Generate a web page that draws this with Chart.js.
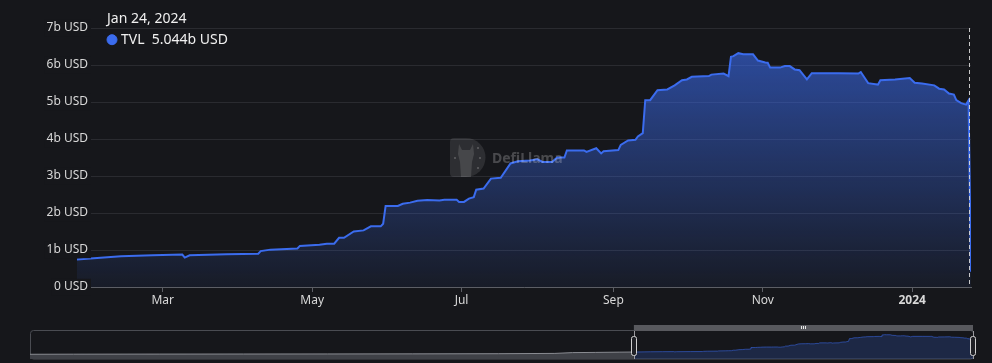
<!DOCTYPE html>
<html>
<head>
<meta charset="utf-8">
<script src="https://cdn.jsdelivr.net/npm/chart.js@4.4.1/dist/chart.umd.min.js"></script>
<style>
  html, body { margin: 0; padding: 0; background: #16171b; }
  #wrap { position: relative; width: 992px; height: 363px; overflow: hidden; }
  #main-box { position: absolute; left: 0; top: 0; width: 992px; height: 318px; }
  #slider-box { position: absolute; left: 0; top: 318px; width: 992px; height: 45px; }
</style>
</head>
<body>
<div id="wrap">
  <div id="main-box"><canvas id="tvlChart"></canvas></div>
  <div id="slider-box"><canvas id="sliderChart"></canvas></div>
</div>
<script>
// TVL in billions of USD
const tvlDates = [
  '2023-01-25', '2023-02-05', '2023-02-12', '2023-02-25', '2023-03-09', '2023-03-10', '2023-03-12', '2023-03-27',
  '2023-04-09', '2023-04-10', '2023-04-14', '2023-04-25', '2023-04-26', '2023-05-04', '2023-05-07', '2023-05-10',
  '2023-05-12', '2023-05-14', '2023-05-18', '2023-05-22', '2023-05-25', '2023-05-29', '2023-05-30', '2023-05-31',
  '2023-06-05', '2023-06-07', '2023-06-10', '2023-06-13', '2023-06-17', '2023-06-22', '2023-06-24', '2023-06-29',
  '2023-06-30', '2023-07-02', '2023-07-04', '2023-07-06', '2023-07-07', '2023-07-10', '2023-07-13', '2023-07-17',
  '2023-07-21', '2023-07-24', '2023-07-29', '2023-08-01', '2023-08-03', '2023-08-07', '2023-08-09', '2023-08-12',
  '2023-08-13', '2023-08-20', '2023-08-21', '2023-08-25', '2023-08-27', '2023-08-28', '2023-09-03', '2023-09-04',
  '2023-09-07', '2023-09-10', '2023-09-11', '2023-09-13', '2023-09-14', '2023-09-16', '2023-09-19', '2023-09-23',
  '2023-09-26', '2023-09-29', '2023-10-01', '2023-10-03', '2023-10-10', '2023-10-11', '2023-10-16', '2023-10-18',
  '2023-10-19', '2023-10-20', '2023-10-22', '2023-10-24', '2023-10-28', '2023-10-30', '2023-11-02', '2023-11-03',
  '2023-11-04', '2023-11-08', '2023-11-10', '2023-11-12', '2023-11-14', '2023-11-16', '2023-11-19', '2023-11-21',
  '2023-12-02', '2023-12-10', '2023-12-11', '2023-12-14', '2023-12-17', '2023-12-18', '2023-12-19', '2023-12-25',
  '2023-12-31', '2024-01-02', '2024-01-05', '2024-01-10', '2024-01-12', '2024-01-14', '2024-01-16', '2024-01-18',
  '2024-01-19', '2024-01-21', '2024-01-23', '2024-01-24', '2024-01-25'
];
const tvlValues = [
  0.74, 0.795, 0.83, 0.857, 0.875, 0.795, 0.857, 0.884,
  0.90, 0.97, 1.01, 1.04, 1.11, 1.14, 1.17, 1.17,
  1.33, 1.33, 1.50, 1.53, 1.64, 1.64, 1.71, 2.19,
  2.19, 2.25, 2.28, 2.33, 2.35, 2.34, 2.36, 2.36,
  2.30, 2.30, 2.39, 2.43, 2.63, 2.66, 2.93, 2.95,
  3.34, 3.40, 3.42, 3.45, 3.38, 3.38, 3.50, 3.50,
  3.69, 3.69, 3.65, 3.75, 3.61, 3.67, 3.70, 3.84,
  3.96, 3.98, 4.07, 4.16, 5.05, 5.05, 5.32, 5.34,
  5.45, 5.59, 5.61, 5.68, 5.70, 5.74, 5.77, 5.70,
  6.22, 6.24, 6.32, 6.29, 6.29, 6.12, 6.07, 6.06,
  5.93, 5.93, 5.97, 5.97, 5.88, 5.86, 5.61, 5.78,
  5.78, 5.77, 5.81, 5.51, 5.48, 5.47, 5.59, 5.61,
  5.65, 5.52, 5.50, 5.45, 5.36, 5.34, 5.23, 5.20,
  5.05, 4.97, 4.93, 5.044, 0.41
];

// older history shown only in the zoom slider
const overviewDates = ['2021-04-15', '2021-06-01', '2021-09-01', '2021-12-01', '2022-03-01', '2022-06-01',
  '2022-09-01', '2022-11-01', '2022-11-20', '2022-12-15', '2023-01-10', '2023-01-25'];
const overviewValues = [0.02, 0.05, 0.08, 0.10, 0.12, 0.15, 0.20, 0.30, 0.55, 0.62, 0.70, 0.74];

const xTickDates = ['2023-03-01', '2023-05-01', '2023-07-01', '2023-09-01', '2023-11-01', '2024-01-01'];
const xTickLabels = ['Mar', 'May', 'Jul', 'Sep', 'Nov', '2024'];
const yTickLabels = ['0 USD', '1b USD', '2b USD', '3b USD', '4b USD', '5b USD', '6b USD', '7b USD'];

const hoverDate = '2024-01-24';
const seriesName = 'TVL';
const lineColor = 'rgb(59, 108, 238)';
const bgColor = '#16171b';
const monthNames = ['Jan', 'Feb', 'Mar', 'Apr', 'May', 'Jun', 'Jul', 'Aug', 'Sep', 'Oct', 'Nov', 'Dec'];

function dayNum(iso) {
  const [y, m, d] = iso.split('-').map(Number);
  return Date.UTC(y, m - 1, d) / 86400000;
}
function formatDate(iso) {
  const [y, m, d] = iso.split('-').map(Number);
  return `${monthNames[m - 1]} ${d}, ${y}`;
}

const tvlPoints = tvlDates.map((d, i) => ({ x: dayNum(d), y: tvlValues[i] }));
const overviewPoints = overviewDates.map((d, i) => ({ x: dayNum(d), y: overviewValues[i] }));
const hoverIndex = tvlDates.indexOf(hoverDate);

Chart.defaults.font.family = "'Noto Sans', sans-serif";
Chart.defaults.font.size = 12;
Chart.defaults.color = '#d8d8d8';

// tooltip parked in the top-left corner like the original
Chart.Tooltip.positioners.topCorner = function () {
  return { x: 107, y: 10.5 };
};

// y labels sit a bit over the plot area (they hide the start of the grid lines)
const labelOverlap = {
  id: 'labelOverlap',
  afterLayout(chart) {
    chart.scales.y.right = chart.chartArea.left + 14;
  }
};

// dashed crosshair at the hovered day
const crosshair = {
  id: 'crosshair',
  afterDatasetsDraw(chart) {
    const { ctx, chartArea, scales } = chart;
    const x = Math.round(scales.x.getPixelForValue(dayNum(hoverDate))) + 0.5;
    ctx.save();
    ctx.strokeStyle = 'rgba(220, 220, 220, 0.9)';
    ctx.lineWidth = 1;
    ctx.setLineDash([4, 3]);
    ctx.beginPath();
    ctx.moveTo(x, chartArea.top);
    ctx.lineTo(x, chartArea.bottom);
    ctx.stroke();
    ctx.restore();
  }
};

// DefiLlama watermark
const watermark = {
  id: 'watermark',
  afterDatasetsDraw(chart) {
    const { ctx } = chart;
    const lx = 450, ly = 138, h = 39, r = h / 2;
    ctx.save();
    ctx.fillStyle = 'rgba(255, 255, 255, 0.1)';
    ctx.beginPath();
    ctx.moveTo(lx + 4, ly);
    ctx.lineTo(lx + 16, ly);
    ctx.arc(lx + 16, ly + r, r, -Math.PI / 2, Math.PI / 2);
    ctx.lineTo(lx + 4, ly + h);
    ctx.quadraticCurveTo(lx, ly + h, lx, ly + h - 4);
    ctx.lineTo(lx, ly + 4);
    ctx.quadraticCurveTo(lx, ly, lx + 4, ly);
    ctx.fill();
    // llama head
    ctx.fillStyle = 'rgba(255, 255, 255, 0.12)';
    ctx.beginPath();
    ctx.moveTo(lx + 9, ly + 6);
    ctx.lineTo(lx + 12, ly + 12);
    ctx.lineTo(lx + 20, ly + 12);
    ctx.lineTo(lx + 23, ly + 6);
    ctx.lineTo(lx + 24, ly + 16);
    ctx.lineTo(lx + 22, ly + 24);
    ctx.lineTo(lx + 21, ly + h);
    ctx.lineTo(lx + 11, ly + h);
    ctx.lineTo(lx + 10, ly + 24);
    ctx.lineTo(lx + 8, ly + 16);
    ctx.closePath();
    ctx.fill();
    ctx.fillStyle = 'rgba(255, 255, 255, 0.18)';
    [[lx + 4, ly + 19], [lx + 29, ly + 19], [lx + 27, ly + 9], [lx + 27, ly + 29]].forEach(([px, py]) => {
      ctx.fillRect(px, py, 2, 2);
    });
    ctx.font = "bold 14px 'Noto Sans', sans-serif";
    ctx.fillStyle = 'rgba(255, 255, 255, 0.22)';
    ctx.textBaseline = 'middle';
    ctx.fillText('DefiLlama', 492, 159);
    ctx.restore();
  }
};

const tvlChart = new Chart(document.getElementById('tvlChart'), {
  type: 'line',
  data: {
    datasets: [{
      label: seriesName,
      data: tvlPoints,
      borderColor: lineColor,
      borderWidth: 2,
      pointRadius: 0,
      pointHoverRadius: 0,
      tension: 0,
      fill: 'origin',
      backgroundColor: (context) => {
        const { chart } = context;
        const { chartArea, scales } = chart;
        if (!chartArea) return 'rgba(59, 108, 238, 0.3)';
        const top = scales.y.getPixelForValue(Math.max(...tvlValues));
        const grad = chart.ctx.createLinearGradient(0, top, 0, chartArea.bottom);
        grad.addColorStop(0, 'rgba(59, 108, 238, 0.6)');
        grad.addColorStop(1, 'rgba(59, 108, 238, 0.06)');
        return grad;
      }
    }]
  },
  options: {
    responsive: true,
    maintainAspectRatio: false,
    animation: false,
    events: [],
    layout: { padding: { top: 28, right: 21, left: 0, bottom: 0 } },
    scales: {
      x: {
        type: 'linear',
        min: dayNum(tvlDates[0]),
        max: dayNum(tvlDates[tvlDates.length - 1]),
        afterBuildTicks: (scale) => {
          scale.ticks = xTickDates.map(d => ({ value: dayNum(d) }));
        },
        afterFit: (scale) => { scale.height = 31; },
        grid: { drawOnChartArea: false, drawTicks: true, tickLength: 5, color: '#5c5e65' },
        border: { color: '#5c5e65' },
        ticks: {
          autoSkip: false,
          maxRotation: 0,
          padding: 1,
          color: '#d8d8d8',
          font: (ctx) => ({
            size: 12,
            weight: ctx.tick && ctx.tick.label === '2024' ? 'bold' : 'normal'
          }),
          callback: (value, index) => xTickLabels[index]
        }
      },
      y: {
        min: 0,
        max: 7,
        afterFit: (scale) => { scale.width = 77; },
        grid: { color: '#2a2b30', drawTicks: false },
        border: { display: false },
        ticks: {
          stepSize: 1,
          padding: 3,
          z: 1,
          color: '#d8d8d8',
          showLabelBackdrop: true,
          backdropColor: bgColor,
          backdropPadding: { left: 2, right: 3, top: 1, bottom: 1 },
          callback: (value) => yTickLabels[value]
        }
      }
    },
    plugins: {
      legend: { display: false },
      tooltip: {
        enabled: true,
        position: 'topCorner',
        xAlign: 'left',
        yAlign: 'top',
        backgroundColor: 'rgba(0, 0, 0, 0)',
        borderWidth: 0,
        caretSize: 0,
        caretPadding: 0,
        cornerRadius: 0,
        padding: 0,
        titleColor: '#f0f0f0',
        bodyColor: '#f0f0f0',
        titleFont: { size: 14, weight: 'normal' },
        bodyFont: { size: 14 },
        titleMarginBottom: 4,
        displayColors: true,
        usePointStyle: true,
        boxWidth: 10,
        boxHeight: 10,
        boxPadding: 2,
        multiKeyBackground: 'rgba(0, 0, 0, 0)',
        callbacks: {
          title: (items) => formatDate(tvlDates[items[0].dataIndex]),
          label: (item) => `${item.dataset.label}  ${item.parsed.y.toFixed(3)}b USD`,
          labelColor: () => ({ borderColor: lineColor, backgroundColor: lineColor }),
          labelPointStyle: () => ({ pointStyle: 'circle', rotation: 0 })
        }
      }
    }
  },
  plugins: [labelOverlap, crosshair, watermark]
});

tvlChart.tooltip.setActiveElements([{ datasetIndex: 0, index: hoverIndex }], { x: 0, y: 0 });
tvlChart.update();

// zoom slider frame, handles and move bar
const sliderFrame = {
  id: 'sliderFrame',
  beforeDatasetsDraw(chart) {
    const { ctx, chartArea } = chart;
    ctx.save();
    ctx.strokeStyle = '#4a4c52';
    ctx.lineWidth = 1;
    ctx.beginPath();
    ctx.roundRect(chartArea.left + 0.5, chartArea.top - 0.5, chartArea.right - chartArea.left, chartArea.bottom - chartArea.top + 0.5, 3);
    ctx.stroke();
    ctx.restore();
  },
  afterDatasetsDraw(chart) {
    const { ctx, chartArea, scales } = chart;
    const x0 = scales.x.getPixelForValue(dayNum(tvlDates[0]));
    const x1 = scales.x.getPixelForValue(dayNum(tvlDates[tvlDates.length - 1]));
    ctx.save();
    ctx.fillStyle = '#58595e';
    ctx.fillRect(x0, chartArea.top - 6, x1 - x0, 6);
    ctx.fillStyle = '#e8e8e8';
    const mid = Math.round((x0 + x1) / 2);
    [-2, 0, 2].forEach(dx => ctx.fillRect(mid + dx, chartArea.top - 5, 1, 3));
    ctx.strokeStyle = '#9a9a9e';
    ctx.beginPath();
    [x0, x1].forEach(x => {
      ctx.moveTo(Math.round(x) + 0.5, chartArea.top);
      ctx.lineTo(Math.round(x) + 0.5, chartArea.bottom);
    });
    ctx.stroke();
    [x0, x1].forEach(x => {
      ctx.fillStyle = '#1f2025';
      ctx.strokeStyle = '#d0d0d0';
      ctx.beginPath();
      ctx.roundRect(Math.round(x) - 2.5, chartArea.top + 5.5, 5, 19, 2);
      ctx.fill();
      ctx.stroke();
    });
    ctx.restore();
  }
};

new Chart(document.getElementById('sliderChart'), {
  type: 'line',
  data: {
    datasets: [
      {
        data: overviewPoints,
        borderColor: '#8a8c92',
        borderWidth: 1,
        backgroundColor: '#3f4147',
        fill: 'start',
        pointRadius: 0,
        tension: 0
      },
      {
        data: tvlPoints,
        borderColor: 'rgba(59, 108, 238, 0.55)',
        borderWidth: 1,
        backgroundColor: 'rgba(59, 108, 238, 0.2)',
        fill: 'start',
        pointRadius: 0,
        tension: 0
      }
    ]
  },
  options: {
    responsive: true,
    maintainAspectRatio: false,
    animation: false,
    events: [],
    layout: { padding: { left: 30, right: 19, top: 13, bottom: 4 } },
    scales: {
      x: { type: 'linear', display: false, min: dayNum(overviewDates[0]), max: dayNum(tvlDates[tvlDates.length - 1]) },
      y: { display: false, min: -1.5, max: 7.5 }
    },
    plugins: { legend: { display: false }, tooltip: { enabled: false } }
  },
  plugins: [sliderFrame]
});
</script>
</body>
</html>
